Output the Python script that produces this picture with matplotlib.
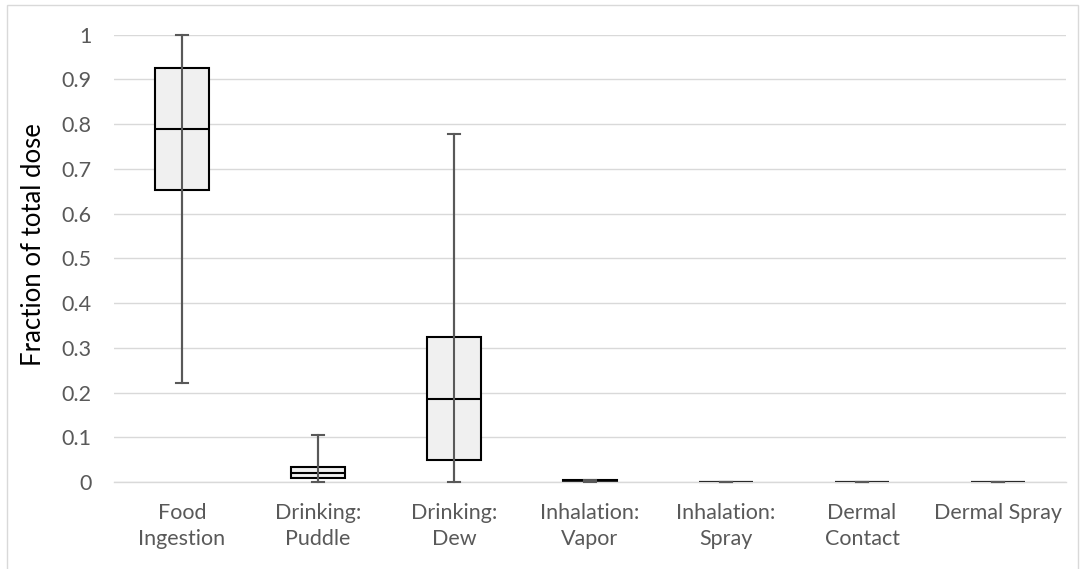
import matplotlib.pyplot as plt
from matplotlib.patches import Rectangle

plt.rcParams['font.family'] = ['Lato', 'DejaVu Sans']

labels = ['Food\nIngestion', 'Drinking:\nPuddle', 'Drinking:\nDew', 'Inhalation:\nVapor',
          'Inhalation:\nSpray', 'Dermal\nContact', 'Dermal Spray']
low = [0.221, 0.0, 0.0, 0.0, 0.0, 0.0, 0.0]
q1 = [0.653, 0.008, 0.049, 0.0005, 0.0001, 0.0001, 0.0001]
med = [0.790, 0.021, 0.186, 0.002, 0.0002, 0.0002, 0.0002]
q3 = [0.925, 0.034, 0.324, 0.004, 0.0004, 0.0003, 0.0003]
high = [1.0, 0.104, 0.778, 0.005, 0.0006, 0.0005, 0.0005]

stats = []
for i in range(len(labels)):
    stats.append({'whislo': low[i], 'q1': q1[i], 'med': med[i], 'q3': q3[i],
                  'whishi': high[i], 'fliers': [], 'label': labels[i]})

fig = plt.figure(figsize=(10.82, 5.69), dpi=100)
ax = fig.add_axes([114 / 1082, 1 - 482 / 569, 952 / 1082, (482 - 34.7) / 569])

pos = list(range(len(labels)))
gray = '#595959'
ax.vlines(pos, low, high, color=gray, lw=1.5, zorder=3)
ax.bxp(stats, positions=pos, widths=0.4, capwidths=0.09, patch_artist=True,
       showfliers=False,
       boxprops=dict(facecolor='#f0f0f0', edgecolor='black', lw=1.5, zorder=2),
       medianprops=dict(color='black', lw=1.5, zorder=2.5),
       whiskerprops=dict(color=gray, lw=1.5, zorder=3),
       capprops=dict(color=gray, lw=1.5, zorder=3))
for l in ax.lines:
    l.set_clip_on(False)

ax.set_xlim(-0.5, len(labels) - 0.5)
ax.set_ylim(0, 1)
ax.set_yticks([i / 10 for i in range(11)])
ax.set_yticklabels(['0', '0.1', '0.2', '0.3', '0.4', '0.5', '0.6', '0.7', '0.8', '0.9', '1'])
ax.yaxis.grid(True, color='#d9d9d9', lw=1)
ax.set_axisbelow(True)
for s in ['top', 'right', 'left']:
    ax.spines[s].set_visible(False)
ax.spines['bottom'].set_color('#d9d9d9')
ax.spines['bottom'].set_linewidth(1)
ax.tick_params(axis='y', length=0, pad=16, labelsize=15.5, labelcolor=gray)
ax.tick_params(axis='x', length=0, pad=15, labelsize=15.5, labelcolor=gray)
for t in ax.get_xticklabels():
    t.set_linespacing(1.4)

ax.set_ylabel('Fraction of total dose', fontsize=18.5, color='black')
ax.yaxis.set_label_coords(-0.071, 0.53)

fig.add_artist(Rectangle((7 / 1082, -0.01), (1078 - 7) / 1082, 1 - 5 / 569 + 0.01,
                         transform=fig.transFigure, fill=False, edgecolor='#d9d9d9', lw=1))

fig.savefig('out.png', dpi=100)
